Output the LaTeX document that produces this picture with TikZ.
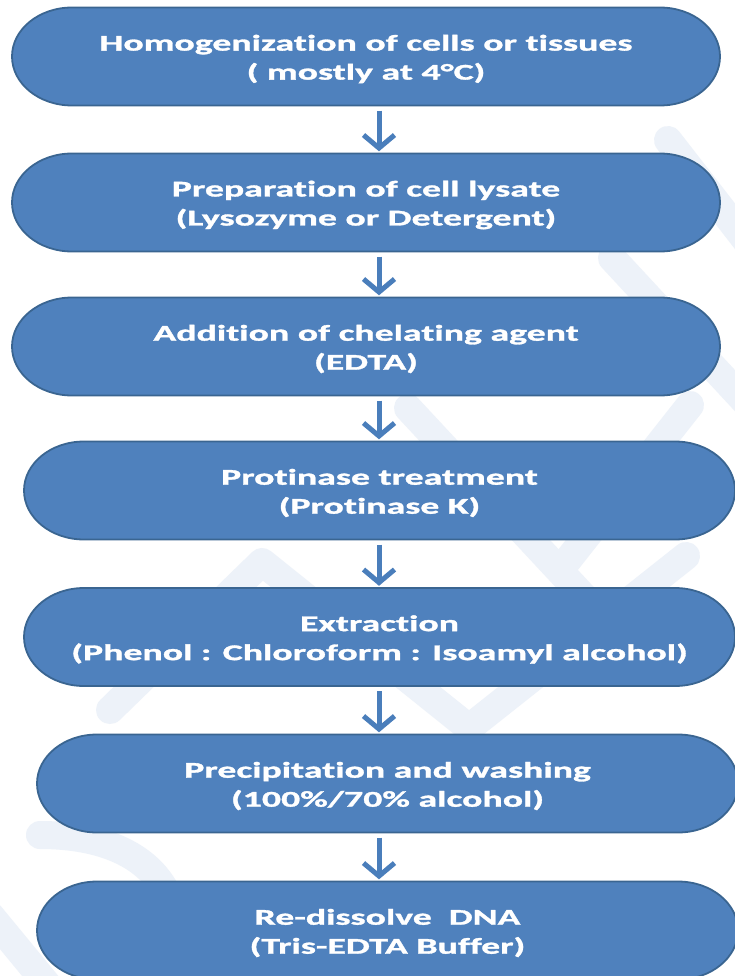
\documentclass[tikz,border=0pt]{standalone}
\usepackage{fontspec}
\setmainfont{Carlito}[FakeStretch=1.68, Ligatures=NoCommon, BoldFeatures={FakeBold=1.4}]
\usetikzlibrary{arrows.meta,calc}
\definecolor{boxfill}{HTML}{4F81BD}
\definecolor{boxedge}{HTML}{3A6591}
\definecolor{arrowblue}{HTML}{4A7EBB}
\definecolor{wm}{HTML}{EDF2F9}
\tikzset{
  boxline/.style={fill=boxfill, draw=boxedge, line width=1.8pt},
  boxtext/.style={text=white, font=\fontsize{22.5}{29}\selectfont\bfseries, align=center, inner sep=0pt, minimum height=98pt},
  flowarrow/.style={draw=arrowblue, line width=5pt, -{Straight Barb[length=13pt,width=31pt,line width=5pt]}},
  wmband/.style={draw=wm, line width=28pt, line cap=round, line join=round},
}
% #1 name, #2 left, #3 right, #4 centre y (downwards), #5 text
\newcommand\flowbox[5]{%
  \draw[boxline] ({#2+60},{-#4+49}) -- ({#3-60},{-#4+49})
    arc[start angle=90,end angle=-90,x radius=60pt,y radius=49pt]
    -- ({#2+60},{-#4-49})
    arc[start angle=270,end angle=90,x radius=60pt,y radius=49pt] -- cycle;
  \node[boxtext, minimum width={#3-#2}] (#1) at ({(#2+#3)/2},{-#4-2.5}) {#5};%
}
\begin{document}
\begin{tikzpicture}[x=1pt,y=1pt]
\useasboundingbox (0,0) rectangle (735,-976);
\clip (0,0) rectangle (735,-976);
\fill[white] (0,0) rectangle (735,-976);
% watermark
\draw[wmband] (668,-140) -- (800,-310);
\draw[wmband] (612,-258) -- (790,-450);
\draw[wmband] (690,-405) -- (560,-570);
\draw[wmband] (408,-408) -- (610,-625);
\draw[wmband] (110,-710) -- (262,-562) -- (469,-728) -- (686,-556);
\draw[wmband] (40,-835) .. controls (170,-835) and (200,-920) .. (160,-1000);
\draw[wmband] (-10,-915) -- (60,-1000);
% boxes
\flowbox{b1}{12}{720}{56.5}{Homogenization of cells or tissues\\( mostly at 4°C)}
\flowbox{b2}{12}{720}{202.5}{Preparation of cell lysate\\(Lysozyme or Detergent)}
\flowbox{b3}{12}{720}{346.5}{Addition of chelating agent\\(EDTA)}
\flowbox{b4}{24}{735}{490.5}{Protinase treatment\\(Protinase K)}
\flowbox{b5}{24}{735}{637}{Extraction\\(Phenol : Chloroform : Isoamyl alcohol)}
\flowbox{b6}{37}{738}{783.5}{Precipitation and washing\\(100\%/70\% alcohol)}
\flowbox{b7}{37}{738}{930.5}{Re-dissolve\ \ DNA\\(Tris-EDTA Buffer)}
% arrows
\coordinate (ax) at (379,0);
\draw[flowarrow] ($(b1.south -| ax)+(0,-2.5)$) -- ($(b2.north -| ax)+(0,4.5)$);
\draw[flowarrow] ($(b2.south -| ax)+(0,-2.5)$) -- ($(b3.north -| ax)+(0,4.5)$);
\draw[flowarrow] ($(b3.south -| ax)+(0,-2.5)$) -- ($(b4.north -| ax)+(0,4.5)$);
\draw[flowarrow] ($(b4.south -| ax)+(0,-2.5)$) -- ($(b5.north -| ax)+(0,4.5)$);
\draw[flowarrow] ($(b5.south -| ax)+(0,-2.5)$) -- ($(b6.north -| ax)+(0,4.5)$);
\draw[flowarrow] ($(b6.south -| ax)+(0,-2.5)$) -- ($(b7.north -| ax)+(0,4.5)$);
\end{tikzpicture}
\end{document}
